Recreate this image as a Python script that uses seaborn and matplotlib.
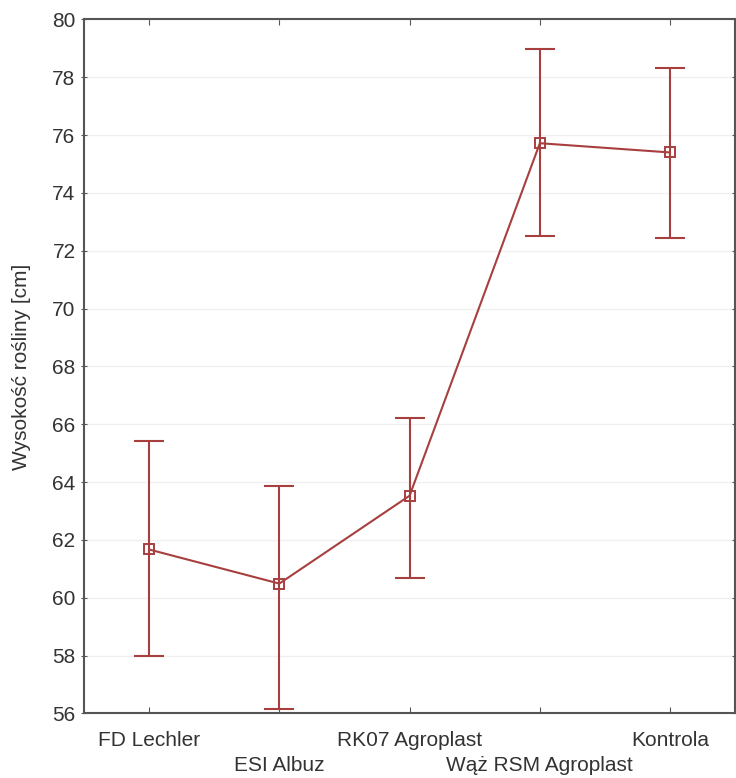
import numpy as np
import pandas as pd
import matplotlib
matplotlib.use("Agg")
import matplotlib.pyplot as plt
import seaborn as sns

# Values
categories = ["FD Lechler", "ESI Albuz", "RK07 Agroplast", "Wąż RSM Agroplast", "Kontrola"]
means = [61.67, 60.49, 63.53, 75.72, 75.40]
upper = [65.42, 63.87, 66.20, 78.97, 78.31]
lower = [57.98, 56.14, 60.69, 72.52, 72.45]
yticks = [56, 58, 60, 62, 64, 66, 68, 70, 72, 74, 76, 78, 80]

color = "#a83f3f"

sns.set_style("ticks")
plt.rcParams["font.family"] = ["Liberation Sans", "DejaVu Sans"]

df = pd.DataFrame({"grupa": categories, "wysokosc": means})

fig = plt.figure(figsize=(7.36, 7.78), dpi=100)
ax = fig.add_axes([0.114, 0.083, 0.885, 0.892])

ax.yaxis.grid(True, color="#f0f0f0", linewidth=1)
ax.set_axisbelow(True)

x = np.arange(len(categories))
ax.errorbar(x, means,
            yerr=[np.array(means) - np.array(lower), np.array(upper) - np.array(means)],
            fmt="none", ecolor=color, elinewidth=1.5, capsize=11, capthick=1.5, zorder=2)

sns.pointplot(data=df, x="grupa", y="wysokosc", color=color, markers="s",
              errorbar=None, markersize=7, markerfacecolor="none",
              markeredgewidth=1.4, linewidth=1.5, ax=ax)

ax.set_xlim(-0.5, 4.5)
ax.set_ylim(56, 80)
ax.set_yticks(yticks)
ax.set_xticks(x)
ax.set_xticklabels(categories, fontsize=15, color="#333333")
ax.tick_params(axis="y", labelsize=15, labelcolor="#333333", direction="inout",
               length=5, color="#555555")
ax.tick_params(axis="x", direction="in", length=4, color="#555555")
ax.tick_params(top=True, right=True, which="both")

# alternate label rows like the original
for i, tick in enumerate(ax.xaxis.get_major_ticks()):
    tick.set_pad(13 if i % 2 == 0 else 31)

ax.set_xlabel("")
ax.set_ylabel("Wysokość rośliny [cm]", fontsize=15, color="#333333", labelpad=15)

for s in ax.spines.values():
    s.set_color("#555555")
    s.set_linewidth(1.5)

fig.savefig("out.png", dpi=100)
